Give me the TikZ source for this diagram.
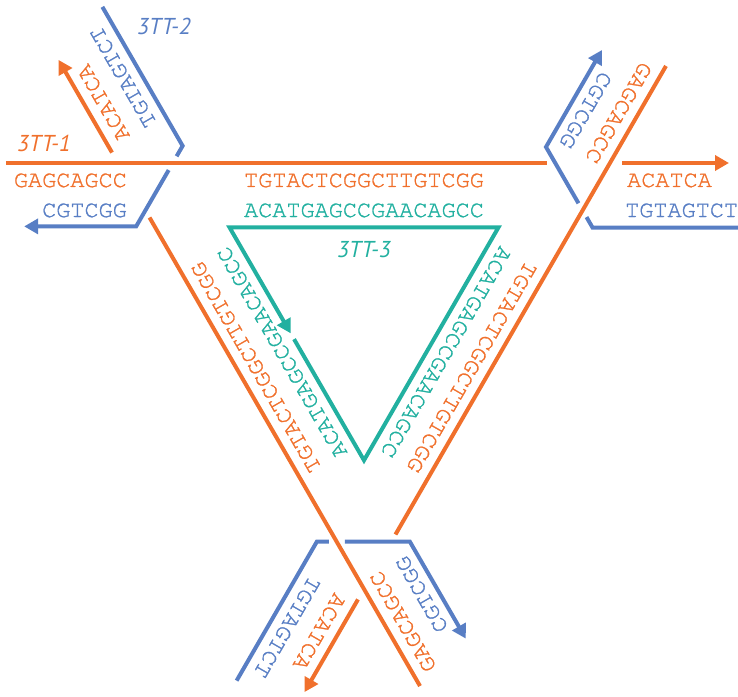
\documentclass[tikz,border=0pt]{standalone}
\usepackage{fontspec}
\newfontfamily\seqfont[FakeBold=1.2]{texgyrecursor-regular.otf}
\newfontfamily\tagfont{PT Sans}
\usetikzlibrary{arrows.meta,calc}

\definecolor{orng}{RGB}{240,112,44}
\definecolor{blu}{RGB}{88,126,196}
\definecolor{teal3}{RGB}{34,176,160}

\tikzset{
  seq/.style={font=\seqfont\fontsize{23.5}{28}\selectfont, inner sep=0pt},
  tag/.style={font=\tagfont\itshape\fontsize{23}{27}\selectfont, inner sep=0pt},
  strand/.style={line width=4pt},
  endtip/.style={-{Triangle[length=14pt,width=15pt]}}
}

\begin{document}
\begin{tikzpicture}[x=1pt,y=1pt]
  % origin = centre of the junction
  \clip (-364,-391) rectangle (374,305);

  \def\R{155.3}

  \foreach \r in {0,120,240} {
    \begin{scope}[rotate=\r, transform shape]
      % 3TT-1 side and arm
      \draw[strand,orng] (-358,142) -- (183,142);
      \draw[strand,orng,endtip] (258,142) -- (365,142);
      % 3TT-2 arm
      \draw[strand,blu,endtip] (214.5,101.7) -- (182,158) -- (238,255);
      \draw[strand,blu] (222.5,87.9) -- (228.5,77.5) -- (389,77.5);

      \node[seq,orng,anchor=base east] (gagc\r) at (-237,118) {GAGCAGCC};
      \node[seq,blu,anchor=base east] (cgtc\r) at (-237,88) {CGTCGG};
      \node[seq,orng,anchor=base] (tgta\r) at (0,118) {TGTACTCGGCTTGTCGG};
      \node[seq,teal3,anchor=base] (acat\r) at (0,88) {ACATGAGCCGAACAGCC};
      \node[seq,orng,anchor=base west] (acca\r) at (263,118) {ACATCA};
      \node[seq,blu,anchor=base west] (tgtg\r) at (261,88) {TGTAGTCT};
    \end{scope}
  }

  % 3TT-3
  \coordinate (tl) at (150:\R);
  \coordinate (tr) at (30:\R);
  \coordinate (bt) at (270:\R);
  \draw[strand,teal3,endtip] ($(tl)!0.48!(bt)$) -- (bt) -- (tr) -- (tl)
    -- ($(tl)!0.455!(bt)$);

  \node[tag,orng,anchor=base west] (lab1) at (-347,153) {3TT-1};
  \node[tag,blu,anchor=base west] (lab2) at (-227,270) {3TT-2};
  \node[tag,teal3,anchor=base] (lab3) at (0,48) {3TT-3};
\end{tikzpicture}
\end{document}
